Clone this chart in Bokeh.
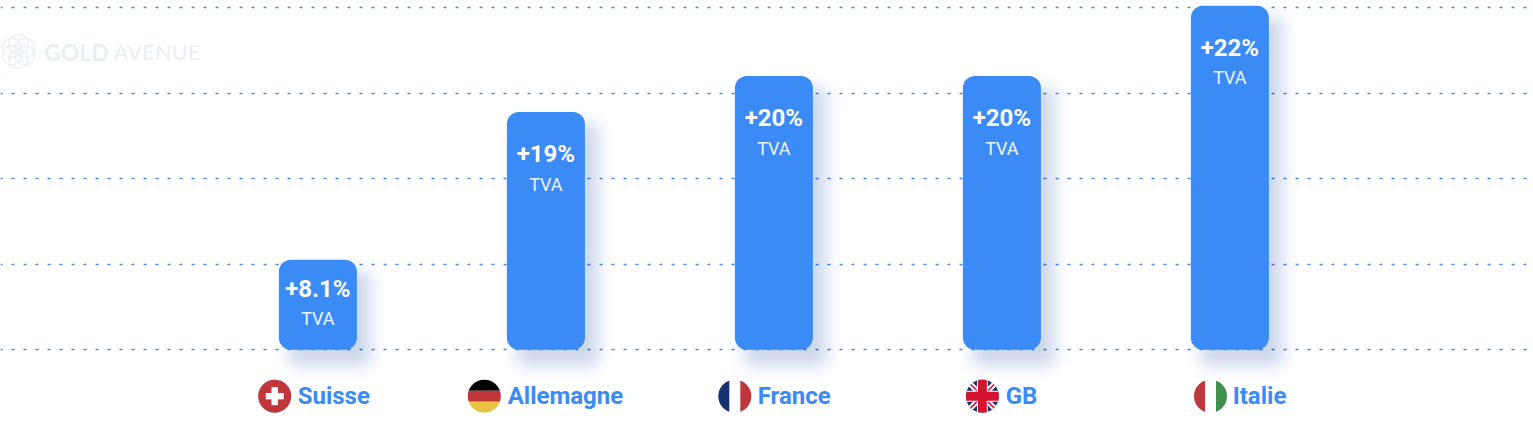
import numpy as np
from bokeh.plotting import figure
from bokeh.models import ColumnDataSource, Range1d, FixedTicker
from bokeh.core.properties import value
from bokeh.embed import file_html
from bokeh.resources import INLINE

# ---- data
countries = ["Suisse", "Allemagne", "France", "GB", "Italie"]
vat_labels = ["+8.1%", "+19%", "+20%", "+20%", "+22%"]
sub_label = "TVA"
# drawn bar heights, in % of the top gridline (the source chart is not to scale)
bar_heights = [26.3, 69.5, 80.0, 80.0, 100.6]
grid_ticks = [0, 25, 50, 75, 100]

# ---- layout constants (pixels of the picture)
W, H = 1533, 435
C0, STEP = 317.4, 228.0      # centre of the first bar, bar pitch
Y0, PXU = 349.2, 3.42        # baseline, pixels per unit
BAR_W = 78
BLUE = "#3a8bf5"
FLAG_X = [274.2, 483.8, 734.3, 981.9, 1210.0]
LABEL_X = [297.2, 507.2, 757.2, 1005.2, 1232.2]
FLAG_Y, FLAG_R = 395.7, 16.5
VAT_PAD = [29, 42, 42, 42, 42]
TVA_PAD = [59, 72, 72, 72, 72]

X = lambda px: (np.asarray(px, float) - C0) / STEP
Y = lambda py: (Y0 - np.asarray(py, float)) / PXU
idx = list(range(len(countries)))

p = figure(width=W, height=H, output_backend="svg", toolbar_location=None,
           x_range=Range1d(float(X(0)), float(X(W))), y_range=Range1d(float(Y(H)), float(Y(0))),
           min_border=0, outline_line_color=None, background_fill_color="white")
p.xaxis.visible = False
p.yaxis.visible = False
p.xgrid.visible = False
p.yaxis.ticker = FixedTicker(ticks=grid_ticks)
p.ygrid.ticker = FixedTicker(ticks=grid_ticks)
p.ygrid.grid_line_color = "#3f8cf5"
p.ygrid.grid_line_width = 1.6
p.ygrid.grid_line_dash = "3 9"
p.ygrid.grid_line_dash_offset = 1

# ---- watermark
LOGO = "#e9eff6"
th = np.linspace(0, 2 * np.pi, 60)
for a in np.arange(6) * np.pi / 3 + np.pi / 6:
    cx, cy = 18 + 7.5 * np.cos(a), 51 + 7.5 * np.sin(a)
    p.line(X(cx + 9.5 * np.cos(th)), Y(cy + 9.5 * np.sin(th)), line_color=LOGO, line_width=1.3)
p.text([float(X(43.5))], [float(Y(51))], text=["GOLD"], text_font=value("Lato"), text_font_size="23px",
       text_font_style="bold", text_color=LOGO, text_baseline="middle")
p.text([float(X(113))], [float(Y(51))], text=["AVENUE"], text_font=value("Lato"), text_font_size="22px",
       text_color=LOGO, text_baseline="middle")

# ---- soft shadows behind the bars
SH_DX, SH_DY = 12, 14
for d in range(24, -25, -1):
    a = 0.011 * np.exp(-(d / 13.0) ** 2)
    p.vbar(x=[i + SH_DX / STEP for i in idx], width=(BAR_W + 2 * d) / STEP,
           top=[h - (SH_DY - d) / PXU for h in bar_heights],
           bottom=-(SH_DY + d) / PXU, fill_color="#3c5a80", fill_alpha=float(a),
           line_color=None, border_radius=int(max(2, 12 + d)))

# ---- bars
p.vbar(x=idx, width=BAR_W / STEP, top=bar_heights, bottom=0, fill_color=BLUE, line_color=None,
       border_radius=12)

tops = [Y0 - h * PXU for h in bar_heights]
src = ColumnDataSource(dict(
    x=idx, vat=vat_labels, tva=[sub_label] * len(idx),
    yv=[float(Y(t + v)) for t, v in zip(tops, VAT_PAD)],
    yt=[float(Y(t + v)) for t, v in zip(tops, TVA_PAD)]))
p.text(x="x", y="yv", text="vat", source=src, text_font=value("Roboto"), text_font_size="24px",
       text_font_style="bold", text_color="white", text_align="center", text_baseline="middle")
p.text(x="x", y="yt", text="tva", source=src, text_font=value("Roboto"), text_font_size="18px",
       text_color="#eef5ff", text_align="center", text_baseline="middle")

# ---- category labels
p.text(x=[float(X(v)) for v in LABEL_X], y=[float(Y(FLAG_Y))] * 5, text=countries,
       text_font=value("Roboto"), text_font_size="24px", text_font_style="bold", text_color=BLUE,
       text_baseline="middle")


# ---- flags
def disc(cx, color):
    t = np.linspace(0, 2 * np.pi, 90)
    p.patch(X(cx + FLAG_R * np.cos(t)), Y(FLAG_Y + FLAG_R * np.sin(t)), fill_color=color, line_color=None)


def band(cx, a, b, color, vertical):
    """part of the flag disc between offsets a and b (in units of the radius)"""
    s = np.linspace(a, b, 30)
    w = np.sqrt(np.clip(1 - s ** 2, 0, 1))
    u = np.r_[s, s[::-1]] * FLAG_R
    v = np.r_[w, -w[::-1]] * FLAG_R
    px, py = (cx + u, FLAG_Y + v) if vertical else (cx + v, FLAG_Y + u)
    p.patch(X(px), Y(py), fill_color=color, line_color=None)


RED = "#c0373b"
def rect(cx, hw, hh, color):
    p.patch(X([cx - hw, cx + hw, cx + hw, cx - hw]),
            Y([FLAG_Y - hh, FLAG_Y - hh, FLAG_Y + hh, FLAG_Y + hh]), fill_color=color, line_color=None)

# Suisse
disc(FLAG_X[0], RED)
rect(FLAG_X[0], 9, 3.2, "white")
rect(FLAG_X[0], 3.2, 9, "white")
# Allemagne
band(FLAG_X[1], -1, -1 / 3, "#000000", False)
band(FLAG_X[1], -1 / 3, 1 / 3, RED, False)
band(FLAG_X[1], 1 / 3, 1, "#e9c143", False)
# France
band(FLAG_X[2], -1, -1 / 3, "#17326e", True)
band(FLAG_X[2], 1 / 3, 1, RED, True)
# GB
cx = FLAG_X[3]
disc(cx, "#17326e")
k = FLAG_R * 0.707
for s in (-1, 1):
    p.line(X([cx - k, cx + k]), Y([FLAG_Y - s * k, FLAG_Y + s * k]), line_color="white", line_width=5.5)
    p.line(X([cx - k, cx + k]), Y([FLAG_Y - s * k, FLAG_Y + s * k]), line_color="#d4122f", line_width=1.5)
band(cx, -0.33, 0.33, "white", False)
band(cx, -0.33, 0.33, "white", True)
band(cx, -0.27, 0.27, "#d4122f", False)
band(cx, -0.27, 0.27, "#d4122f", True)
# Italie
band(FLAG_X[4], -1, -1 / 3, RED, True)
band(FLAG_X[4], 1 / 3, 1, "#41904e", True)

open("out.html", "w").write(file_html(p, INLINE))
